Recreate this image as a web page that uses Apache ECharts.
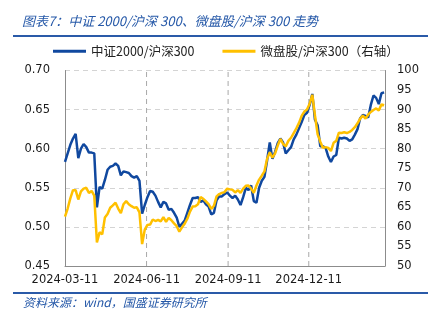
<!DOCTYPE html>
<html>
<head>
<meta charset="utf-8">
<script src="https://cdn.jsdelivr.net/npm/echarts@6/dist/echarts.min.js"></script>
<style>
  html, body { margin: 0; padding: 0; background: #fff; }
  #chart { width: 444px; height: 323px; }
</style>
</head>
<body>
<div id="chart"></div>
<script>
// Sampling: one reading every 3 calendar days from the start date
const startDate = '2024-03-11';
const stepDays = 3;
const axisEnd = '2025-03-07';

// Date labels shown under the x axis
const tickDates = ['2024-03-11', '2024-06-11', '2024-09-11', '2024-12-11'];

// 中证2000/沪深300 (left axis)
const csi2000Ratio = [
  0.583, 0.594, 0.605, 0.613, 0.619, 0.588, 0.600, 0.606, 0.602, 0.595,
  0.595, 0.594, 0.525, 0.551, 0.549, 0.560, 0.573, 0.577, 0.578, 0.581,
  0.578, 0.566, 0.571, 0.570, 0.569, 0.565, 0.563, 0.565, 0.559, 0.517,
  0.528, 0.538, 0.546, 0.545, 0.540, 0.532, 0.525, 0.532, 0.530, 0.522,
  0.523, 0.518, 0.512, 0.500, 0.504, 0.508, 0.518, 0.528, 0.537, 0.537,
  0.538, 0.532, 0.534, 0.529, 0.526, 0.516, 0.518, 0.534, 0.539, 0.539,
  0.542, 0.544, 0.540, 0.537, 0.540, 0.535, 0.528, 0.538, 0.550, 0.547,
  0.553, 0.533, 0.531, 0.550, 0.559, 0.564, 0.585, 0.608, 0.587, 0.596,
  0.607, 0.613, 0.608, 0.594, 0.598, 0.602, 0.612, 0.618, 0.626, 0.634,
  0.643, 0.646, 0.656, 0.670, 0.637, 0.630, 0.603, 0.603, 0.601, 0.590,
  0.583, 0.590, 0.592, 0.614, 0.613, 0.614, 0.613, 0.610, 0.612, 0.618,
  0.625, 0.639, 0.643, 0.642, 0.640, 0.656, 0.668, 0.665, 0.657, 0.671,
  0.672
];

// 微盘股/沪深300 (right axis)
const microCapRatio = [
  62.6, 64.7, 67.3, 69.4, 69.4, 67.0, 69.1, 69.8, 70.0, 68.7,
  69.2, 68.0, 56.0, 58.6, 58.1, 62.4, 63.3, 64.9, 65.5, 66.2,
  64.7, 63.5, 65.8, 66.6, 65.8, 65.3, 64.9, 65.0, 63.7, 55.6,
  59.3, 60.5, 60.6, 61.9, 61.5, 61.8, 61.4, 62.5, 61.3, 62.3,
  61.7, 60.9, 60.2, 58.8, 59.9, 60.8, 62.1, 63.9, 65.2, 65.3,
  65.8, 67.6, 67.2, 66.5, 65.8, 64.6, 65.4, 67.8, 68.4, 68.7,
  68.9, 69.8, 69.6, 69.5, 68.8, 69.4, 68.7, 69.8, 70.5, 70.6,
  69.8, 68.7, 70.6, 72.1, 73.1, 74.2, 77.4, 79.1, 77.7, 78.8,
  80.8, 82.5, 81.2, 80.6, 82.0, 82.8, 84.0, 85.2, 86.6, 88.4,
  89.5, 90.0, 91.5, 93.8, 88.5, 83.7, 81.8, 80.2, 80.4, 80.2,
  79.4, 81.5, 82.0, 84.1, 84.0, 84.2, 84.0, 84.3, 84.8, 85.5,
  86.5, 87.7, 88.5, 87.7, 88.7, 89.4, 89.9, 90.3, 89.8, 91.3,
  91.1
];

const seriesNames = ['中证2000/沪深300', '微盘股/沪深300（右轴）'];
const titleText = '图表7：中证 2000/沪深 300、微盘股/沪深 300 走势';
const sourceText = '资料来源：wind，国盛证券研究所';

const BLUE = '#10489f';
const GOLD = '#ffc000';
const RULE = '#2a5aa8';
const GRID = '#d4d4d4';
const GUIDE = '#a8a8a8';
const DAY = 86400000;
const LEFT_MIN = 0.45, LEFT_MAX = 0.70;

function pad(n) { return n < 10 ? '0' + n : '' + n; }
function toTime(s) {
  const [y, m, d] = s.split('-').map(Number);
  return Date.UTC(y, m - 1, d);
}
function fmtDate(t) {
  const d = new Date(t);
  return d.getUTCFullYear() + '-' + pad(d.getUTCMonth() + 1) + '-' + pad(d.getUTCDate());
}

// x values are UTC timestamps on a plain value axis
const t0 = toTime(startDate);
const tEnd = toTime(axisEnd);
const times = csi2000Ratio.map((_, i) => t0 + i * stepDays * DAY);
const blueData = times.map((t, i) => [t, csi2000Ratio[i]]);
const goldData = times.map((t, i) => [t, microCapRatio[i]]);
const tickTimes = tickDates.map(toTime);

const axisFont = { fontFamily: 'DejaVu Sans', fontSize: 11.5, color: '#1a1a1a' };

// Vertical dashed guides at each dated label (the first one sits on the y axis)
const guideSeries = tickTimes.slice(1).map(t => ({
  type: 'line',
  yAxisIndex: 0,
  data: [[t, LEFT_MIN], [t, LEFT_MAX]],
  showSymbol: false,
  silent: true,
  clip: false,
  lineStyle: { color: GUIDE, type: [5, 4], width: 1 },
  emphasis: { disabled: true },
  z: 1
}));

const chart = echarts.init(document.getElementById('chart'), null, { renderer: 'canvas' });
chart.setOption({
  animation: false,
  backgroundColor: '#fff',
  grid: { left: 65, right: 59, top: 70.5, bottom: 57, containLabel: false },
  legend: {
    data: seriesNames,
    left: 48,
    top: 40,
    icon: 'rect',
    itemWidth: 33,
    itemHeight: 3,
    itemGap: 28,
    textStyle: { fontFamily: 'Noto Sans CJK SC', fontSize: 12.5, color: '#222' }
  },
  xAxis: {
    type: 'value',
    min: t0,
    max: tEnd,
    axisLine: { show: true, onZero: false, lineStyle: { color: '#8c8c8c', width: 1 } },
    axisTick: { show: false },
    axisLabel: Object.assign({
      customValues: tickTimes,
      margin: 8,
      formatter: v => fmtDate(v)
    }, axisFont),
    splitLine: { show: false }
  },
  yAxis: [
    {
      type: 'value',
      min: LEFT_MIN,
      max: LEFT_MAX,
      interval: 0.05,
      position: 'left',
      axisLine: { show: true, lineStyle: { color: '#8c8c8c', width: 1 } },
      axisTick: { show: false },
      axisLabel: Object.assign({ margin: 15, formatter: v => v.toFixed(2) }, axisFont),
      splitLine: { show: true, lineStyle: { color: GRID, type: [5, 4], width: 1 } }
    },
    {
      type: 'value',
      min: 50,
      max: 100,
      interval: 5,
      position: 'right',
      axisLine: { show: true, lineStyle: { color: '#8c8c8c', width: 1 } },
      axisTick: { show: false },
      axisLabel: Object.assign({ margin: 12 }, axisFont),
      splitLine: { show: false }
    }
  ],
  series: guideSeries.concat([
    {
      name: seriesNames[0],
      type: 'line',
      yAxisIndex: 0,
      data: blueData,
      showSymbol: false,
      color: BLUE,
      lineStyle: { color: BLUE, width: 2.5 },
      z: 2
    },
    {
      name: seriesNames[1],
      type: 'line',
      yAxisIndex: 1,
      data: goldData,
      showSymbol: false,
      color: GOLD,
      lineStyle: { color: GOLD, width: 2.5 },
      z: 3
    }
  ]),
  graphic: [
    {
      type: 'text', left: 22, top: 15,
      style: {
        text: titleText,
        font: 'italic 13px "Noto Sans CJK SC"',
        fill: '#2558a8'
      }
    },
    {
      type: 'rect', shape: { x: 13, y: 35, width: 415, height: 2 },
      style: { fill: RULE }
    },
    {
      type: 'rect', shape: { x: 13, y: 292, width: 415, height: 2 },
      style: { fill: RULE }
    },
    {
      type: 'text', left: 23, top: 296,
      style: {
        text: sourceText,
        font: 'italic 12px "Noto Sans CJK SC"',
        fill: '#2558a8'
      }
    }
  ]
});
</script>
</body>
</html>
